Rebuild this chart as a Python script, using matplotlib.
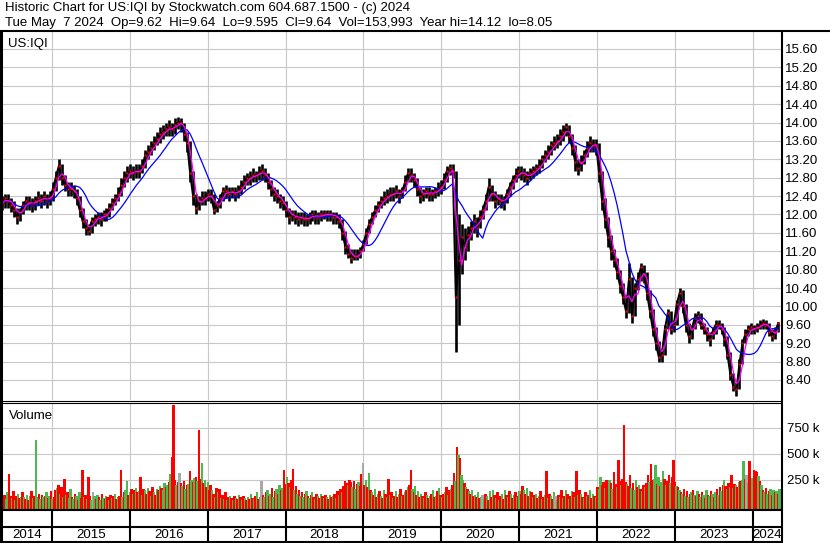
import matplotlib
matplotlib.use("Agg")
import matplotlib.pyplot as plt
from matplotlib.lines import Line2D
import pandas as pd

plt.rcParams['font.family'] = ['Liberation Sans', 'DejaVu Sans']

W, H = 830, 543

# bi-weekly price bars (US:IQI)
closes = [
    12.25, 12.35, 12.30, 12.20, 12.10, 11.95, 12.05, 12.20, 12.30, 12.25,
    12.20, 12.30, 12.35, 12.30, 12.40, 12.30, 12.35, 12.55, 12.80, 13.05,
    12.80, 12.65, 12.55, 12.55, 12.50, 12.35, 12.10, 11.85, 11.70, 11.65,
    11.85, 11.90, 11.95, 11.90, 12.00, 12.00, 12.15, 12.25, 12.35, 12.45,
    12.65, 12.80, 12.90, 12.95, 12.90, 12.95, 12.95, 13.05, 13.30, 13.35,
    13.45, 13.55, 13.65, 13.75, 13.80, 13.85, 13.90, 13.85, 13.95, 14.00,
    14.00, 13.75, 13.55, 12.90, 12.40, 12.15, 12.30, 12.35, 12.35, 12.45,
    12.40, 12.10, 12.20, 12.35, 12.50, 12.50, 12.45, 12.50, 12.45, 12.50,
    12.60, 12.70, 12.80, 12.80, 12.85, 12.85, 12.90, 12.95, 12.85, 12.70,
    12.55, 12.45, 12.40, 12.30, 12.25, 12.10, 11.95, 12.00, 11.95, 11.90,
    11.95, 11.90, 11.90, 11.95, 12.00, 11.95, 11.95, 12.00, 12.00, 12.00,
    12.00, 11.95, 11.95, 11.85, 11.60, 11.30, 11.15, 11.05, 11.10, 11.10,
    11.20, 11.35, 11.60, 11.80, 11.95, 12.10, 12.20, 12.30, 12.35, 12.40,
    12.45, 12.45, 12.50, 12.40, 12.50, 12.70, 12.90, 12.85, 12.75, 12.55,
    12.40, 12.45, 12.50, 12.45, 12.45, 12.50, 12.55, 12.60, 12.75, 12.95,
    13.00, 12.95, 10.20, 11.00, 11.50, 11.30, 11.55, 11.70, 11.85, 11.70,
    11.95, 12.10, 12.30, 12.60, 12.45, 12.30, 12.35, 12.30, 12.25, 12.45,
    12.60, 12.75, 12.85, 12.95, 12.90, 12.85, 12.80, 12.90, 12.95, 13.00,
    13.05, 13.20, 13.30, 13.35, 13.50, 13.55, 13.60, 13.70, 13.80, 13.90,
    13.70, 13.45, 13.15, 13.00, 13.15, 13.30, 13.45, 13.55, 13.50, 13.50,
    12.90, 12.30, 11.90, 11.50, 11.20, 11.00, 10.75, 10.45, 10.20, 9.90,
    10.60, 9.80, 10.40, 10.60, 10.85, 10.70, 10.30, 9.90, 9.50, 9.20,
    8.90, 8.95, 9.50, 9.85, 9.50, 9.60, 10.05, 10.30, 10.00, 9.60,
    9.35, 9.50, 9.75, 9.80, 9.60, 9.50, 9.40, 9.30, 9.45, 9.60,
    9.60, 9.50, 9.30, 8.95, 8.50, 8.25, 8.20, 8.75, 9.20, 9.40,
    9.50, 9.55, 9.50, 9.55, 9.60, 9.65, 9.60, 9.45, 9.35, 9.45,
    9.64]
lows = [
    12.10, 12.15, 12.15, 12.05, 11.95, 11.80, 11.85, 12.00, 12.10, 12.10,
    12.05, 12.10, 12.20, 12.15, 12.20, 12.15, 12.20, 12.30, 12.50, 12.75,
    12.65, 12.50, 12.40, 12.40, 12.35, 12.20, 11.95, 11.70, 11.55, 11.55,
    11.60, 11.75, 11.80, 11.75, 11.85, 11.85, 11.95, 12.10, 12.20, 12.30,
    12.40, 12.60, 12.70, 12.80, 12.75, 12.80, 12.80, 12.90, 13.00, 13.20,
    13.30, 13.40, 13.50, 13.55, 13.65, 13.70, 13.70, 13.70, 13.75, 13.85,
    13.80, 13.60, 13.35, 12.70, 12.20, 12.00, 12.10, 12.20, 12.20, 12.30,
    12.25, 12.00, 12.05, 12.15, 12.30, 12.35, 12.30, 12.35, 12.30, 12.35,
    12.45, 12.55, 12.65, 12.65, 12.70, 12.70, 12.75, 12.75, 12.70, 12.55,
    12.40, 12.30, 12.25, 12.15, 12.10, 11.95, 11.80, 11.85, 11.80, 11.75,
    11.80, 11.75, 11.75, 11.80, 11.85, 11.80, 11.80, 11.85, 11.90, 11.85,
    11.85, 11.80, 11.80, 11.70, 11.45, 11.15, 11.05, 10.95, 11.00, 11.00,
    11.05, 11.20, 11.35, 11.60, 11.80, 11.95, 12.05, 12.15, 12.20, 12.25,
    12.30, 12.30, 12.35, 12.25, 12.35, 12.50, 12.70, 12.70, 12.60, 12.40,
    12.25, 12.30, 12.35, 12.30, 12.30, 12.35, 12.40, 12.45, 12.55, 12.70,
    12.85, 12.80, 9.00, 9.60, 10.70, 11.00, 11.20, 11.45, 11.60, 11.50,
    11.70, 11.90, 12.10, 12.30, 12.30, 12.15, 12.20, 12.15, 12.10, 12.25,
    12.40, 12.55, 12.70, 12.80, 12.75, 12.70, 12.65, 12.75, 12.80, 12.85,
    12.90, 13.00, 13.15, 13.20, 13.30, 13.40, 13.45, 13.50, 13.60, 13.70,
    13.55, 13.30, 12.95, 12.85, 12.95, 13.10, 13.25, 13.35, 13.35, 13.30,
    12.70, 12.10, 11.70, 11.30, 11.00, 10.85, 10.60, 10.30, 10.05, 9.75,
    9.85, 9.65, 9.80, 10.35, 10.55, 10.50, 10.15, 9.75, 9.35, 9.05,
    8.80, 8.80, 8.95, 9.50, 9.40, 9.45, 9.60, 10.00, 9.85, 9.45,
    9.20, 9.30, 9.50, 9.65, 9.50, 9.40, 9.25, 9.15, 9.30, 9.40,
    9.50, 9.40, 9.15, 8.85, 8.40, 8.15, 8.05, 8.20, 8.75, 9.20,
    9.35, 9.40, 9.40, 9.45, 9.50, 9.50, 9.50, 9.35, 9.25, 9.30,
    9.45]
highs = [
    12.40, 12.45, 12.45, 12.35, 12.30, 12.15, 12.15, 12.30, 12.40, 12.40,
    12.35, 12.40, 12.50, 12.45, 12.50, 12.45, 12.50, 12.70, 12.95, 13.20,
    13.10, 12.85, 12.70, 12.70, 12.65, 12.55, 12.40, 12.15, 11.90, 11.80,
    11.95, 12.00, 12.05, 12.05, 12.10, 12.15, 12.25, 12.35, 12.45, 12.60,
    12.80, 12.95, 13.05, 13.10, 13.05, 13.10, 13.10, 13.20, 13.40, 13.50,
    13.60, 13.70, 13.80, 13.90, 13.95, 14.00, 14.05, 14.00, 14.10, 14.12,
    14.10, 14.00, 13.80, 13.60, 12.95, 12.45, 12.40, 12.50, 12.50, 12.55,
    12.55, 12.45, 12.30, 12.45, 12.60, 12.65, 12.60, 12.60, 12.60, 12.65,
    12.75, 12.85, 12.90, 12.95, 13.00, 12.95, 13.05, 13.10, 13.00, 12.90,
    12.75, 12.60, 12.55, 12.45, 12.40, 12.30, 12.15, 12.10, 12.10, 12.05,
    12.05, 12.05, 12.00, 12.05, 12.10, 12.10, 12.05, 12.10, 12.10, 12.10,
    12.10, 12.05, 12.05, 12.00, 11.90, 11.65, 11.35, 11.25, 11.25, 11.25,
    11.30, 11.45, 11.70, 11.90, 12.05, 12.20, 12.30, 12.40, 12.50, 12.55,
    12.60, 12.60, 12.65, 12.55, 12.60, 12.85, 13.00, 13.00, 12.90, 12.80,
    12.60, 12.55, 12.60, 12.60, 12.55, 12.60, 12.70, 12.75, 12.90, 13.05,
    13.10, 13.10, 12.95, 12.00, 11.80, 11.70, 11.75, 11.85, 12.00, 11.95,
    12.10, 12.20, 12.45, 12.80, 12.65, 12.50, 12.45, 12.45, 12.40, 12.55,
    12.70, 12.85, 13.00, 13.05, 13.05, 13.00, 12.95, 13.00, 13.05, 13.10,
    13.20, 13.30, 13.40, 13.50, 13.60, 13.70, 13.75, 13.85, 13.95, 14.00,
    13.95, 13.75, 13.50, 13.20, 13.30, 13.40, 13.60, 13.70, 13.65, 13.65,
    13.55, 12.95, 12.35, 11.95, 11.55, 11.25, 11.05, 10.80, 10.50, 10.25,
    10.95, 10.65, 10.50, 10.75, 10.95, 10.90, 10.75, 10.35, 9.95, 9.55,
    9.25, 9.10, 9.60, 9.95, 9.90, 9.70, 10.15, 10.40, 10.35, 10.05,
    9.65, 9.60, 9.85, 9.90, 9.85, 9.65, 9.55, 9.45, 9.55, 9.70,
    9.70, 9.65, 9.55, 9.35, 9.00, 8.55, 8.35, 8.85, 9.30, 9.50,
    9.60, 9.65, 9.60, 9.65, 9.70, 9.72, 9.70, 9.65, 9.50, 9.55,
    9.66]

# weekly volume in thousands; negative = down week (red), positive = up week (green)
vol_2014 = [90, -110, 70, 130, -310, -95, 80, -140, 60, -100, 120, -75, 90, -130, 85, -70, 110, -60,
            95, -140, 80, -100, 635, 90, -120, 70, -110, 85, -95, 130, -75, 100, -140, 65, -90]
vol_2015 = [-150, 170, -200, 120, -180, 90, -260, 110, -130, 80, 160, -90, 70, -120, 100, -60, 130, -80,
            -346, 90, -110, 70, -280, -100, 60, -130, 95, -70, 110, -85, 60, -120, 80, -65, 100, -90,
            55, -110, 75, -95, 120, -70, 85, -100, -346, 90, -130, 150, 240, -110, 130, -160]
vol_2016 = [120, -150, 170, -130, 140, -280, 110, -160, 150, -120, 170, -140, 100, -180, 130, -110, 160, -150,
            190, -170, 150, 220, -180, 200, -230, 310, -470, -970, -250, 200, -230, 320, -220, 190, -240, 160,
            -200, 210, -340, 250, -230, 270, -280, 240, -730, -260, 410, -220, 250, -180, 230, -150]
vol_2017 = [-200, 150, -120, 90, -170, 130, -160, 80, -110, 70, -130, 60, -90, 100, -75, 55, -95, 80,
            -65, 110, -85, 60, -100, 75, -60, 90, -70, 115, -80, 65, -95, 130, -70, 85, 240, -110,
            90, -130, 150, -100, 120, -170, 90, -140, 160, -120, 200, -150, 170, -346, -210, 280]
vol_2018 = [-220, 180, -250, -360, 150, -190, 120, -150, 100, -130, 90, -120, 140, -100, 80, -110, 130, -90,
            70, -120, 100, -80, 115, -95, 75, -105, 90, -70, 110, -85, 95, -120, 80, -140, 110, -160,
            130, -190, -240, -220, 200, -250, -230, 180, -240, 160, -210, 230, -190, -310, 410, -200, 250]
vol_2019 = [-180, 320, -150, 130, -110, 160, -90, 120, -140, 100, -80, 150, -120, 90, -260, 110, -130, 80,
            -100, 140, -90, 120, -160, 95, -110, 130, -150, 180, -200, -346, 160, -130, 190, -110, 140, -90,
            120, -100, 80, -130, 110, -75, 95, -120, 150, -85, 100, -140, 170, -110, 90, -120]
vol_2020 = [130, -180, 110, -150, 160, -200, -320, 240, -570, 490, -465, 300, 250, -220, 180, -160, 140, -120,
            150, -100, 110, -90, 130, -80, 90, -110, 70, -120, 100, -60, 140, -90, 150, -110, 80, -130,
            60, -100, 120, -70, 150, -110, 90, -140, 120, -80, 110, -130, 90, -100, 140, -120]
vol_2021 = [-190, 150, -120, 170, -100, 140, -130, 90, -110, 120, -80, 100, -140, 70, -90, 110, -340, 80,
            -120, 95, -70, 130, -100, 60, -110, 90, -150, 80, -95, 150, -120, 70, -100, 140, -130, 90,
            -340, 110, -150, 120, -90, 80, -130, 100, -110, 150, -80, 120, -100, 90, -180, 160]
vol_2022 = [280, -200, -230, 170, -250, -190, 250, -220, 160, -330, -210, 180, -440, -240, 200, -260, -780, -230,
            210, -190, -300, 170, -220, 150, 250, -180, 200, -160, 140, -200, 180, -220, -300, 230, -400, -250,
            260, 390, -210, 280, -190, 230, 340, -260, 200, -240, -300, 220, -280, -440, -230, 190]
vol_2023 = [-180, 150, -130, 120, -160, 100, -140, 90, -120, 130, -150, 110, -100, 140, -120, 90, -130, 110,
            -80, 150, -110, 100, -140, 120, -90, 130, -160, 110, -180, 140, -200, 250, -190, 160, -220, 180,
            -300, 170, -210, 200, -180, 230, -240, 250, 430, -260, 300, 220, -430, -250, 270, -350, -340]
vol_2024 = [-330, 290, -240, 200, -150, 130, -170, 120, -140, 160, -110, 150, -130, 140, -120, 160, 130, 150]
gray_weeks = [60, 118, 173, 241, 321, 370, 498]

years = list(range(2014, 2025))
price_ticks = [8.40, 8.80, 9.20, 9.60, 10.00, 10.40, 10.80, 11.20, 11.60, 12.00,
               12.40, 12.80, 13.20, 13.60, 14.00, 14.40, 14.80, 15.20, 15.60]
vol_ticks = [250000, 500000, 750000]
vol_labels = ['250 k', '500 k', '750 k']

header1 = "Historic Chart for US:IQI by Stockwatch.com 604.687.1500 - (c) 2024"
header2 = "Tue May  7 2024  Op=9.62  Hi=9.64  Lo=9.595  Cl=9.64  Vol=153,993  Year hi=14.12  lo=8.05"

# ---- data frames ----
pdates = pd.date_range('2014-05-12', periods=len(closes), freq='14D')
px = pd.DataFrame({'close': closes, 'low': lows, 'high': highs}, index=pdates)
ma_fast = px['close'].rolling(3, min_periods=1).mean()
ma_slow = px['close'].rolling(10, min_periods=1).mean()

weekly = vol_2014 + vol_2015 + vol_2016 + vol_2017 + vol_2018 + vol_2019 + \
    vol_2020 + vol_2021 + vol_2022 + vol_2023 + vol_2024
vdates = pd.date_range('2014-05-12', periods=len(weekly), freq='7D')
vol = [abs(v) * 1000 for v in weekly]
vcolors = []
for i, v in enumerate(weekly):
    if i in gray_weeks:
        vcolors.append('#a8a8a8')
    elif v < 0:
        vcolors.append('#ff0000')
    else:
        vcolors.append('#4db84d')


def fx(p):
    return p / W


def fy(p):
    return 1 - p / H


fig = plt.figure(figsize=(W / 100, H / 100), dpi=100)
fig.patch.set_facecolor('white')

x0, x1 = 2, 781
ax_p = fig.add_axes([fx(x0), fy(400), fx(x1) - fx(x0), fy(31) - fy(400)])
ax_v = fig.add_axes([fx(x0), fy(509), fx(x1) - fx(x0), fy(403) - fy(509)], sharex=ax_p)
ax_y = fig.add_axes([fx(x0), fy(541), fx(x1) - fx(x0), fy(510) - fy(541)], sharex=ax_p)

xmin, xmax = pd.Timestamp('2014-05-12'), pd.Timestamp('2024-05-12')
grid_c = '#c8c8c8'
bounds = [pd.Timestamp(f'{y}-01-01') for y in years[1:]]

# ---- price panel ----
for b in bounds:
    ax_p.axvline(b, color=grid_c, lw=0.8, zorder=0)
for t in price_ticks:
    ax_p.axhline(t, color=grid_c, lw=0.8, zorder=0)

ax_p.vlines(px.index, px['low'], px['high'], color='black', lw=1.9, zorder=2)
ax_p.plot(px.index, px['close'], color='black', lw=1.4, zorder=2)
ax_p.plot(px.index, px['close'], ls='none', marker='s', ms=1.7, mec='none', color='red', zorder=3)
ax_p.plot(ma_slow.index, ma_slow.values, color='#0000ff', lw=0.9, zorder=4)
ax_p.plot(ma_fast.index, ma_fast.values, color='#ff00ff', lw=0.9, zorder=5)

ax_p.set_xlim(xmin, xmax)
ax_p.set_ylim(7.965, 15.99)
ax_p.yaxis.tick_right()
ax_p.set_yticks(price_ticks)
ax_p.set_yticklabels([f'{t:.2f}' for t in price_ticks])
ax_p.tick_params(axis='y', length=0, pad=3, labelsize=9.5)
ax_p.tick_params(axis='x', bottom=False, labelbottom=False)
for s in ax_p.spines.values():
    s.set_visible(False)
ax_p.text(0.008, 0.982, 'US:IQI', transform=ax_p.transAxes, fontsize=9.5, va='top', ha='left')

# ---- volume panel ----
vbot = -29000
for b in bounds:
    ax_v.axvline(b, color=grid_c, lw=0.8, zorder=0)
for t in vol_ticks:
    ax_v.axhline(t, color=grid_c, lw=0.8, zorder=0)
ax_v.bar(vdates, [v - vbot for v in vol], bottom=vbot, width=7, align='edge',
         color=vcolors, edgecolor=vcolors, linewidth=0.4, antialiased=False, zorder=2)
ax_v.set_ylim(vbot, 990000)
ax_v.yaxis.tick_right()
ax_v.set_yticks(vol_ticks)
ax_v.set_yticklabels(vol_labels)
ax_v.tick_params(axis='y', length=0, pad=4, labelsize=9.5)
ax_v.tick_params(axis='x', bottom=False, labelbottom=False)
for s in ax_v.spines.values():
    s.set_visible(False)
ax_v.text(0.009, 0.93, 'Volume', transform=ax_v.transAxes, fontsize=9.5, va='top', ha='left')

# ---- year rows ----
ax_y.set_ylim(0, 1)
ax_y.axis('off')
for b in bounds:
    ax_y.axvline(b, color='black', lw=1.5)
edges = [xmin] + bounds + [xmax]
for y, a, b in zip(years, edges[:-1], edges[1:]):
    ax_y.text(a + (b - a) / 2, 0.2, str(y), ha='center', va='center', fontsize=9.5)

# ---- frame lines ----
def hline(y, xa, xb, lw):
    fig.add_artist(Line2D([fx(xa), fx(xb)], [fy(y), fy(y)], transform=fig.transFigure,
                          color='black', lw=lw, solid_capstyle='butt'))


def vline(x, ya, yb, lw):
    fig.add_artist(Line2D([fx(x), fx(x)], [fy(ya), fy(yb)], transform=fig.transFigure,
                          color='black', lw=lw, solid_capstyle='butt'))


hline(30.5, 0, W, 1.5)
hline(400.5, 0, 782, 0.8)
hline(402.5, 0, 782, 0.8)
hline(509.5, 0, 782, 1.5)
hline(526.5, 0, 782, 1.5)
hline(541.5, 0, 782, 1.5)
vline(1.2, 30, 543, 2.2)
vline(781.5, 30, 543, 1.5)

fig.text(fx(5), fy(8.5), header1, fontsize=9.5, va='center', ha='left')
fig.text(fx(5), fy(23), header2, fontsize=9.5, va='center', ha='left')

fig.savefig('out.png', dpi=100)
